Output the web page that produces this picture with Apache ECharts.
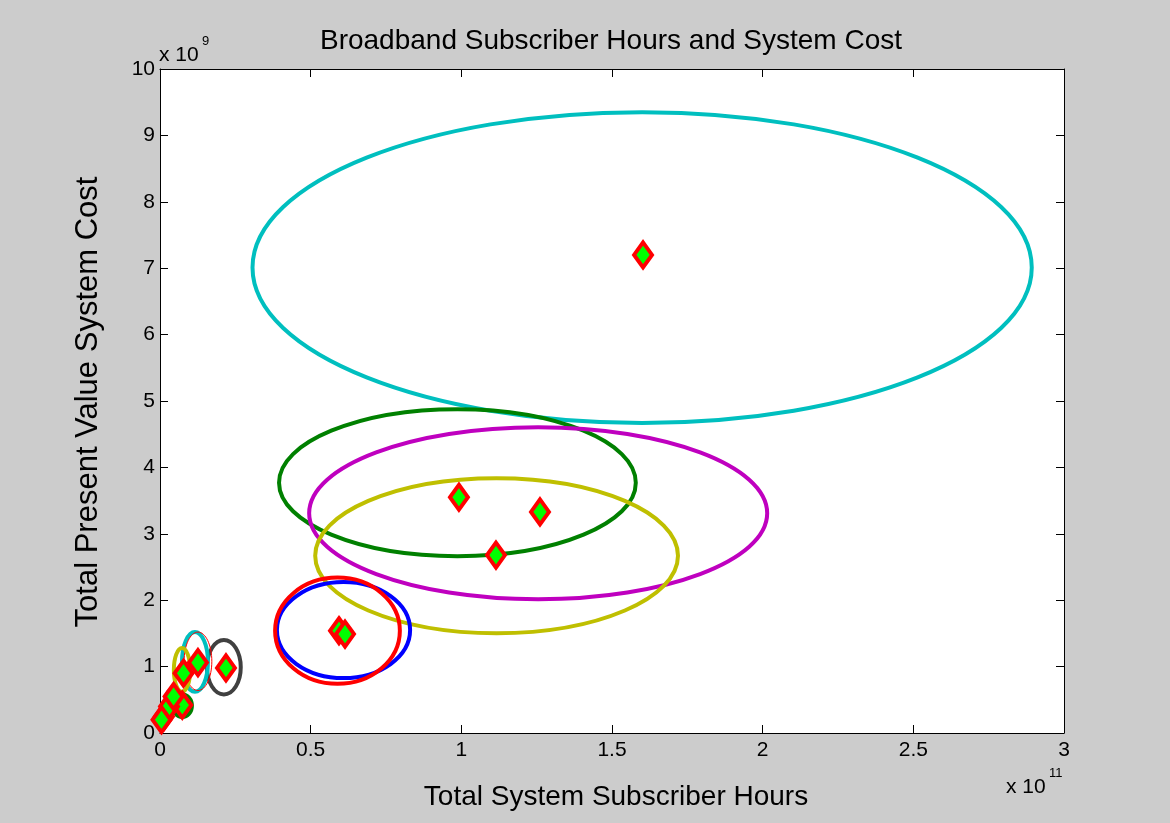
<!DOCTYPE html>
<html>
<head>
<meta charset="utf-8">
<script src="https://cdn.jsdelivr.net/npm/echarts@6/dist/echarts.min.js"></script>
<style>
html,body{margin:0;padding:0;background:#cccccc;}
#chart{width:1170px;height:823px;}
</style>
</head>
<body>
<div id="chart"></div>
<script>
// Units: x in 1e11 subscriber hours, y in 1e9 cost
const xTicks = [0, 0.5, 1, 1.5, 2, 2.5, 3];
const yTicks = [0, 1, 2, 3, 4, 5, 6, 7, 8, 9, 10];

// Ellipses: center x, center y, radius x, radius y
const ellipseCx = [1.600, 0.987, 1.255, 1.117, 0.609, 0.589, 0.212, 0.116, 0.126, 0.073, 0.074, 0.010, 0.027];
const ellipseCy = [7.01, 3.77, 3.31, 2.67, 1.55, 1.54, 0.99, 1.07, 1.08, 0.95, 0.41, 0.26, 0.45];
const ellipseRx = [1.293, 0.592, 0.760, 0.602, 0.221, 0.207, 0.056, 0.043, 0.046, 0.027, 0.032, 0.010, 0.012];
const ellipseRy = [2.34, 1.107, 1.295, 1.167, 0.723, 0.80, 0.41, 0.45, 0.44, 0.33, 0.17, 0.09, 0.20];
const ellipseColors = ['#00bfbf', '#008000', '#bf00bf', '#bfbf00', '#0000ff', '#ff0000', '#404040', '#00bfbf', '#ff0000', '#bfbf00', '#008000', '#0000ff', '#bf00bf'];
const ellipseWidths = [4, 4, 4, 4, 4, 4, 4, 4, 1, 4, 4, 4, 1];

// Center markers
const markerX = [1.603, 0.992, 1.261, 1.115, 0.594, 0.614, 0.219, 0.126, 0.078, 0.074, 0.013, 0.030, 0.045, 0.005];
const markerY = [7.20, 3.55, 3.33, 2.68, 1.54, 1.49, 0.98, 1.06, 0.90, 0.42, 0.25, 0.40, 0.55, 0.20];

const ellipseData = ellipseCx.map((cx, i) => [cx, ellipseCy[i], ellipseRx[i], ellipseRy[i], i]);
const markerData = markerX.map((x, i) => [x, markerY[i]]);

const FONT = "'Liberation Sans', Arial, Helvetica, sans-serif";
const chart = echarts.init(document.getElementById('chart'), null, {renderer: 'canvas'});

const tickStyle = {show: true, inside: true, length: 8, lineStyle: {color: '#000', width: 1}};
const lineStyle = {show: true, onZero: false, lineStyle: {color: '#000', width: 1}};

chart.setOption({
  backgroundColor: '#cccccc',
  animation: false,
  grid: {left: 160, right: 106, top: 69, bottom: 90, show: true, backgroundColor: '#ffffff', borderWidth: 0, containLabel: false, outerBoundsMode: 'none'},
  xAxis: [
    {type: 'value', min: 0, max: 3, interval: 0.5, position: 'bottom',
     axisLine: lineStyle, axisTick: tickStyle, splitLine: {show: false},
     axisLabel: {color: '#000', fontSize: 21, fontFamily: FONT, margin: 7,
       formatter: v => String(xTicks.find(t => Math.abs(t - v) < 1e-9) ?? v)}},
    {type: 'value', min: 0, max: 3, interval: 0.5, position: 'top',
     axisLine: lineStyle, axisTick: tickStyle, splitLine: {show: false}, axisLabel: {show: false}}
  ],
  yAxis: [
    {type: 'value', min: 0, max: 10, interval: 1, position: 'left',
     axisLine: lineStyle, axisTick: tickStyle, splitLine: {show: false},
     axisLabel: {color: '#000', fontSize: 21, fontFamily: FONT, margin: 5,
       formatter: v => String(yTicks.find(t => Math.abs(t - v) < 1e-9) ?? v)}},
    {type: 'value', min: 0, max: 10, interval: 1, position: 'right',
     axisLine: lineStyle, axisTick: tickStyle, splitLine: {show: false}, axisLabel: {show: false}}
  ],
  graphic: [
    {type: 'text', x: 611, y: 41, style: {text: 'Broadband Subscriber Hours and System Cost', fill: '#000', font: '28px ' + FONT, align: 'center', verticalAlign: 'middle'}},
    {type: 'text', x: 616, y: 797, style: {text: 'Total System Subscriber Hours', fill: '#000', font: '28px ' + FONT, align: 'center', verticalAlign: 'middle'}},
    {type: 'text', x: 88, y: 402, rotation: Math.PI / 2, style: {text: 'Total Present Value System Cost', fill: '#000', font: '31px ' + FONT, align: 'center', verticalAlign: 'middle'}},
    {type: 'text', x: 159, y: 55, style: {text: 'x 10', fill: '#000', font: '21px ' + FONT, align: 'left', verticalAlign: 'middle'}},
    {type: 'text', x: 202, y: 41, style: {text: '9', fill: '#000', font: '13px ' + FONT, align: 'left', verticalAlign: 'middle'}},
    {type: 'text', x: 1006, y: 787, style: {text: 'x 10', fill: '#000', font: '21px ' + FONT, align: 'left', verticalAlign: 'middle'}},
    {type: 'text', x: 1049, y: 773, style: {text: '11', fill: '#000', font: '13px ' + FONT, align: 'left', verticalAlign: 'middle'}}
  ],
  series: [
    {
      type: 'custom',
      coordinateSystem: 'cartesian2d',
      data: ellipseData,
      clip: true,
      z: 2,
      renderItem: function (params, api) {
        const i = api.value(4);
        const c = api.coord([api.value(0), api.value(1)]);
        const e = api.coord([api.value(0) + api.value(2), api.value(1) + api.value(3)]);
        return {
          type: 'ellipse',
          shape: {cx: c[0], cy: c[1], rx: Math.abs(e[0] - c[0]), ry: Math.abs(c[1] - e[1])},
          style: {fill: 'none', stroke: ellipseColors[i], lineWidth: ellipseWidths[i]}
        };
      }
    },
    {
      type: 'scatter',
      data: markerData,
      symbol: 'diamond',
      symbolSize: [18, 25],
      z: 3,
      itemStyle: {color: '#00ff00', borderColor: '#ff0000', borderWidth: 4, opacity: 1},
      emphasis: {disabled: true}
    }
  ]
});
</script>
</body>
</html>
